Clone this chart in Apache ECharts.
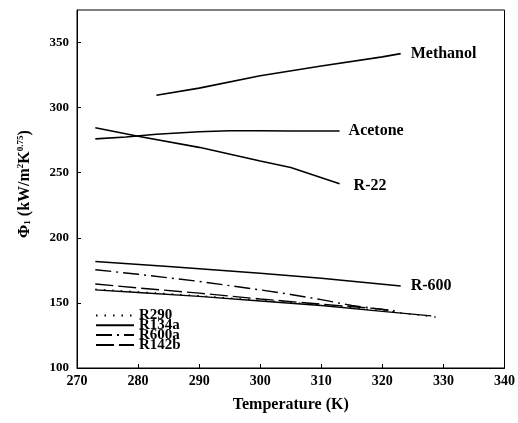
<!DOCTYPE html>
<html><head><meta charset="utf-8">
<script src="https://cdn.jsdelivr.net/npm/echarts@6/dist/echarts.min.js"></script>
<style>html,body{margin:0;padding:0;background:#fff}#c{width:518px;height:423px}</style>
</head><body><div id="c"></div>
<script>
const methanolT = [283, 290, 300, 310, 320, 323];
const methanolV = [309.5, 315, 324.5, 332, 339, 341.5];
const acetoneT = [273, 278, 283, 290, 295, 300, 305, 313];
const acetoneV = [276, 277.5, 279.5, 281.5, 282.3, 282.3, 282, 282];
const r22T = [273, 280, 290, 300, 305, 313];
const r22V = [284.5, 278, 269.5, 259, 254, 241.5];
const r600T = [273, 285, 300, 310, 323];
const r600V = [181.8, 178, 172.8, 169, 163];
const r290T = [273, 280, 290, 300, 310, 320, 329];
const r290V = [160.5, 158.5, 155.5, 152, 148.5, 144, 139];
const r134aT = [273, 280, 290, 300, 310, 320, 328];
const r134aV = [160, 158, 155, 151.5, 148, 143.5, 140];
const r600aT = [273, 280, 290, 300, 305, 310, 315, 320, 322];
const r600aV = [175.5, 172, 166.5, 160, 156.5, 152.5, 148, 145, 143.5];
const r142bT = [273, 280, 290, 300, 310, 318, 322];
const r142bV = [164.5, 161.5, 157.5, 153, 149, 146, 144];
const xTicks = [270, 280, 290, 300, 310, 320, 330, 340];
const yTicks = [100, 150, 200, 250, 300, 350];

const font = 'Liberation Serif, Times New Roman, serif';
const pair = (t, v) => t.map((x, i) => [x, v[i]]);

function labeled(name, t, v, dx, dy) {
  return {
    name, type: 'line', data: pair(t, v), symbol: 'none', silent: true,
    lineStyle: { color: '#000', width: 1.6 },
    endLabel: { show: true, formatter: name, color: '#000', fontFamily: font,
      fontWeight: 'bold', fontSize: 16, offset: [dx, dy] }
  };
}
function legendLine(name, t, v, dash) {
  return {
    name, type: 'line', data: pair(t, v), symbol: 'none', silent: true,
    itemStyle: { color: '#000' },
    lineStyle: { color: '#000', width: 1.4, type: dash }
  };
}

const chart = echarts.init(document.getElementById('c'));
chart.setOption({
  animation: false,
  backgroundColor: '#fff',
  grid: { left: 77, right: 11, top: 10, bottom: 55, show: true, borderColor: '#000', borderWidth: 1 },
  xAxis: {
    type: 'value', min: xTicks[0], max: xTicks[xTicks.length - 1], interval: 10,
    name: 'Temperature (K)', nameLocation: 'middle', nameGap: 29,
    nameTextStyle: { fontFamily: font, fontWeight: 'bold', fontSize: 16, color: '#000' },
    axisLine: { lineStyle: { color: '#000' } },
    axisTick: { inside: true, length: 4, lineStyle: { color: '#000' } },
    axisLabel: { fontFamily: font, fontWeight: 'bold', fontSize: 14, color: '#000', margin: 6 },
    splitLine: { show: false }
  },
  yAxis: {
    type: 'value', min: yTicks[0], max: 375, interval: 50,
    name: '{a|Φ}{sub|1}{a| (kW/m}{sup|2}{a|K}{sup|0.75}{a|)}',
    nameLocation: 'middle', nameGap: 44, nameRotate: 90,
    nameTextStyle: { color: '#000', padding: [0, 0, 0, 10], rich: {
      a: { fontFamily: font, fontWeight: 'bold', fontSize: 16, color: '#000' },
      sub: { fontFamily: font, fontWeight: 'bold', fontSize: 9, color: '#000', padding: [6, 0, 0, 0] },
      sup: { fontFamily: font, fontWeight: 'bold', fontSize: 9, color: '#000', padding: [0, 0, 8, 0] }
    } },
    axisLine: { lineStyle: { color: '#000' } },
    axisTick: { inside: true, length: 4, lineStyle: { color: '#000' } },
    axisLabel: { fontFamily: font, fontWeight: 'bold', fontSize: 13, color: '#000', margin: 8, showMaxLabel: false },
    splitLine: { show: false }
  },
  legend: {
    data: ['R290', 'R134a', 'R600a', 'R142b'],
    orient: 'vertical', left: 90, top: 303,
    itemWidth: 38, itemHeight: 8, itemGap: -5.2,
    itemStyle: { opacity: 0 },
    textStyle: { fontFamily: font, fontWeight: 'bold', fontSize: 15, color: '#000' },
    selectedMode: false
  },
  series: [
    labeled('Methanol', methanolT, methanolV, 2, 0),
    labeled('Acetone', acetoneT, acetoneV, 1, 0),
    labeled('R-22', r22T, r22V, 6, 2),
    labeled('R-600', r600T, r600V, 2, 0),
    legendLine('R290', r290T, r290V, [1.5, 7]),
    legendLine('R134a', r134aT, r134aV, 'solid'),
    legendLine('R600a', r600aT, r600aV, [16, 5, 2, 5]),
    legendLine('R142b', r142bT, r142bV, [18, 5])
  ]
});
</script></body></html>
